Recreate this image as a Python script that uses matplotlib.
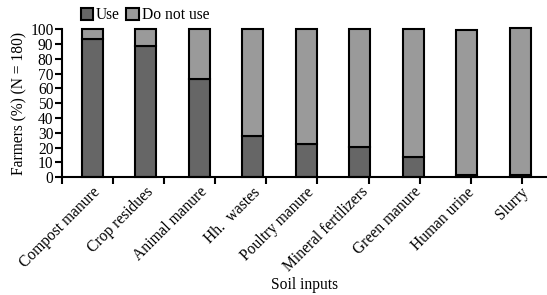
import numpy as np
import matplotlib.pyplot as plt

plt.rcParams['font.family'] = ['Liberation Serif', 'DejaVu Serif']
plt.rcParams['font.size'] = 11.2

# data (% of 180 farmers)
inputs = ["Compost manure", "Crop residues", "Animal manure", "Hh.  wastes",
          "Poultry manure", "Mineral fertilizers", "Green manure",
          "Human urine", "Slurry"]
use     = [93.3, 88.9, 66.7, 27.8, 22.8, 20.6, 13.9, 1.7, 1.7]
not_use = [6.7, 11.1, 33.3, 72.2, 77.2, 79.4, 86.1, 98.0, 99.3]

use_col = "#666666"
not_col = "#9a9a9a"

fig = plt.figure(figsize=(5.47, 2.95), dpi=100)
ax = fig.add_axes([0.113, 0.399, 0.887, 0.502])

x = np.arange(len(inputs))
w = 0.39
ax.bar(x, use, w, color=use_col, edgecolor="black", linewidth=1.5, label="Use", clip_on=False)
ax.bar(x, not_use, w, bottom=use, color=not_col, edgecolor="black", linewidth=1.5,
       label="Do not use", clip_on=False)

ax.set_ylim(0, 100)
ax.set_xlim(-0.57, 8.5)
ax.set_yticks(np.arange(0, 101, 10))
ax.spines["top"].set_visible(False)
ax.spines["right"].set_visible(False)
ax.spines["left"].set_linewidth(1.5)
ax.spines["bottom"].set_linewidth(1.5)
ax.tick_params(axis="y", length=5, width=1.5, pad=1)

# category labels at the bars, tick marks between categories
ax.set_xticks(x)
ax.set_xticklabels(inputs, rotation=45, ha="right", rotation_mode="anchor")
ax.tick_params(axis="x", which="major", length=0, pad=5)
ax.set_xticks(np.linspace(-0.57, 8.03, 10), minor=True)
ax.tick_params(axis="x", which="minor", length=5, width=1.5, direction="out")

ax.set_ylabel("Farmers (%) (N = 180)", labelpad=2)
ax.set_xlabel("Soil inputs", labelpad=1)

fig.legend(loc="center", bbox_to_anchor=(0.265, 0.948), ncol=2, frameon=False,
           handlelength=0.8, handleheight=0.8, handletextpad=0.2, columnspacing=0.4,
           borderpad=0)

fig.savefig("out.png", dpi=100)
